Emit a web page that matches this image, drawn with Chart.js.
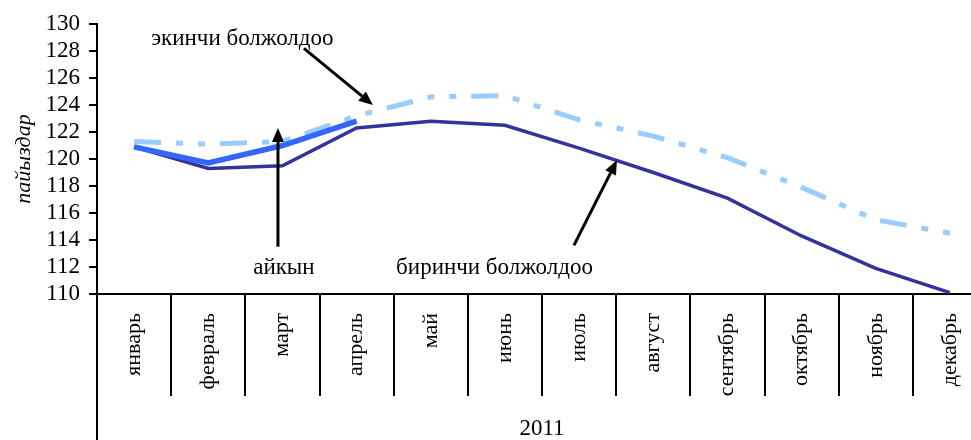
<!DOCTYPE html>
<html>
<head>
<meta charset="utf-8">
<script src="https://cdn.jsdelivr.net/npm/chart.js@4.4.0/dist/chart.umd.min.js"></script>
<style>
  html, body { margin: 0; padding: 0; background: #fff; overflow: hidden; }
</style>
</head>
<body>
<canvas id="chart" width="992" height="440"></canvas>
<script>
// months of 2011
var months = ['январь', 'февраль', 'март', 'апрель', 'май', 'июнь',
  'июль', 'август', 'сентябрь', 'октябрь', 'ноябрь', 'декабрь'];

// percent values
var actual = [120.9, 119.7, 121.0, 122.8];
var firstForecast = [120.9, 119.3, 119.5, 122.3, 122.8, 122.5, 120.8, 119.0, 117.1, 114.3, 111.9, 110.1];
var secondForecast = [121.3, 121.1, 121.3, 123.2, 124.6, 124.7, 122.9, 121.7, 120.1, 117.9, 115.5, 114.5];

var yMin = 110, yMax = 130, yStep = 2;

// text labels with arrows, placed in (category index, value) units
var notes = [
  { text: 'экинчи болжолдоо', at: [1.46, 128.9], from: [2.29, 128.2], to: [3.22, 124.0] },
  { text: 'айкын', at: [2.02, 111.9], from: [1.94, 113.5], to: [1.94, 122.3] },
  { text: 'биринчи болжолдоо', at: [4.86, 111.9], from: [5.93, 113.6], to: [6.51, 119.9] }
];

var serif = 'Liberation Serif, Times New Roman, serif';

function arrow(ctx, x1, y1, x2, y2) {
  var a = Math.atan2(y2 - y1, x2 - x1);
  var len = 14, half = 6;
  var bx = x2 - len * Math.cos(a), by = y2 - len * Math.sin(a);
  ctx.beginPath();
  ctx.moveTo(x1, y1);
  ctx.lineTo(bx, by);
  ctx.stroke();
  ctx.beginPath();
  ctx.moveTo(x2, y2);
  ctx.lineTo(bx + half * Math.sin(a), by - half * Math.cos(a));
  ctx.lineTo(bx - half * Math.sin(a), by + half * Math.cos(a));
  ctx.closePath();
  ctx.fill();
}

var extras = {
  id: 'extras',
  afterDraw: function(chart) {
    var ctx = chart.ctx, xs = chart.scales.x, ys = chart.scales.y;
    ctx.save();
    // the value axis runs on down past the month labels
    ctx.strokeStyle = '#000';
    ctx.lineWidth = 2;
    ctx.beginPath();
    ctx.moveTo(xs.left, xs.top);
    ctx.lineTo(xs.left, chart.height);
    ctx.stroke();

    ctx.fillStyle = '#000';
    ctx.lineWidth = 3;
    ctx.font = '23px ' + serif;
    ctx.textAlign = 'center';
    ctx.textBaseline = 'middle';
    notes.forEach(function(n) {
      ctx.fillText(n.text, xs.getPixelForValue(n.at[0]), ys.getPixelForValue(n.at[1]));
      arrow(ctx,
        xs.getPixelForValue(n.from[0]), ys.getPixelForValue(n.from[1]),
        xs.getPixelForValue(n.to[0]), ys.getPixelForValue(n.to[1]));
    });
    ctx.restore();
  }
};

new Chart(document.getElementById('chart'), {
  type: 'line',
  data: {
    labels: months,
    datasets: [
      {
        label: 'айкын',
        data: actual,
        borderColor: '#3366ff',
        borderWidth: 5.5,
        pointRadius: 0
      },
      {
        label: 'биринчи болжолдоо',
        data: firstForecast,
        borderColor: '#333399',
        borderWidth: 3.5,
        pointRadius: 0
      },
      {
        label: 'экинчи болжолдоо',
        data: secondForecast,
        borderColor: '#99ccff',
        borderWidth: 5,
        borderDash: [27, 15, 7, 15, 7, 15],
        pointRadius: 0
      }
    ]
  },
  options: {
    responsive: false,
    animation: false,
    layout: { padding: { top: 24, right: 5, left: 0, bottom: 0 } },
    plugins: {
      legend: { display: false },
      tooltip: { enabled: false }
    },
    scales: {
      x: {
        offset: true,
        grid: { offset: true, drawOnChartArea: false, tickLength: 102, color: '#000', lineWidth: 2 },
        border: { color: '#000', width: 2 },
        ticks: {
          minRotation: 90, maxRotation: 90, autoSkip: false, padding: -83,
          color: '#000', font: { family: serif, size: 22 }
        },
        title: {
          display: true, text: '2011', color: '#000', padding: 0,
          font: { family: serif, size: 23, lineHeight: 1 }
        },
        afterFit: function(s) { s.height = 146; }
      },
      y: {
        min: yMin,
        max: yMax,
        ticks: {
          stepSize: yStep, autoSkip: false, padding: 9,
          color: '#000', font: { family: serif, size: 23 }
        },
        grid: { drawOnChartArea: false, tickLength: 8, color: '#000', lineWidth: 2 },
        border: { color: '#000', width: 2 },
        title: {
          display: true, text: 'пайыздар', color: '#000',
          padding: { top: 11, bottom: 0 },
          font: { family: serif, size: 22, style: 'italic' }
        },
        afterFit: function(s) { s.width = 97; }
      }
    }
  },
  plugins: [extras]
});
</script>
</body>
</html>
